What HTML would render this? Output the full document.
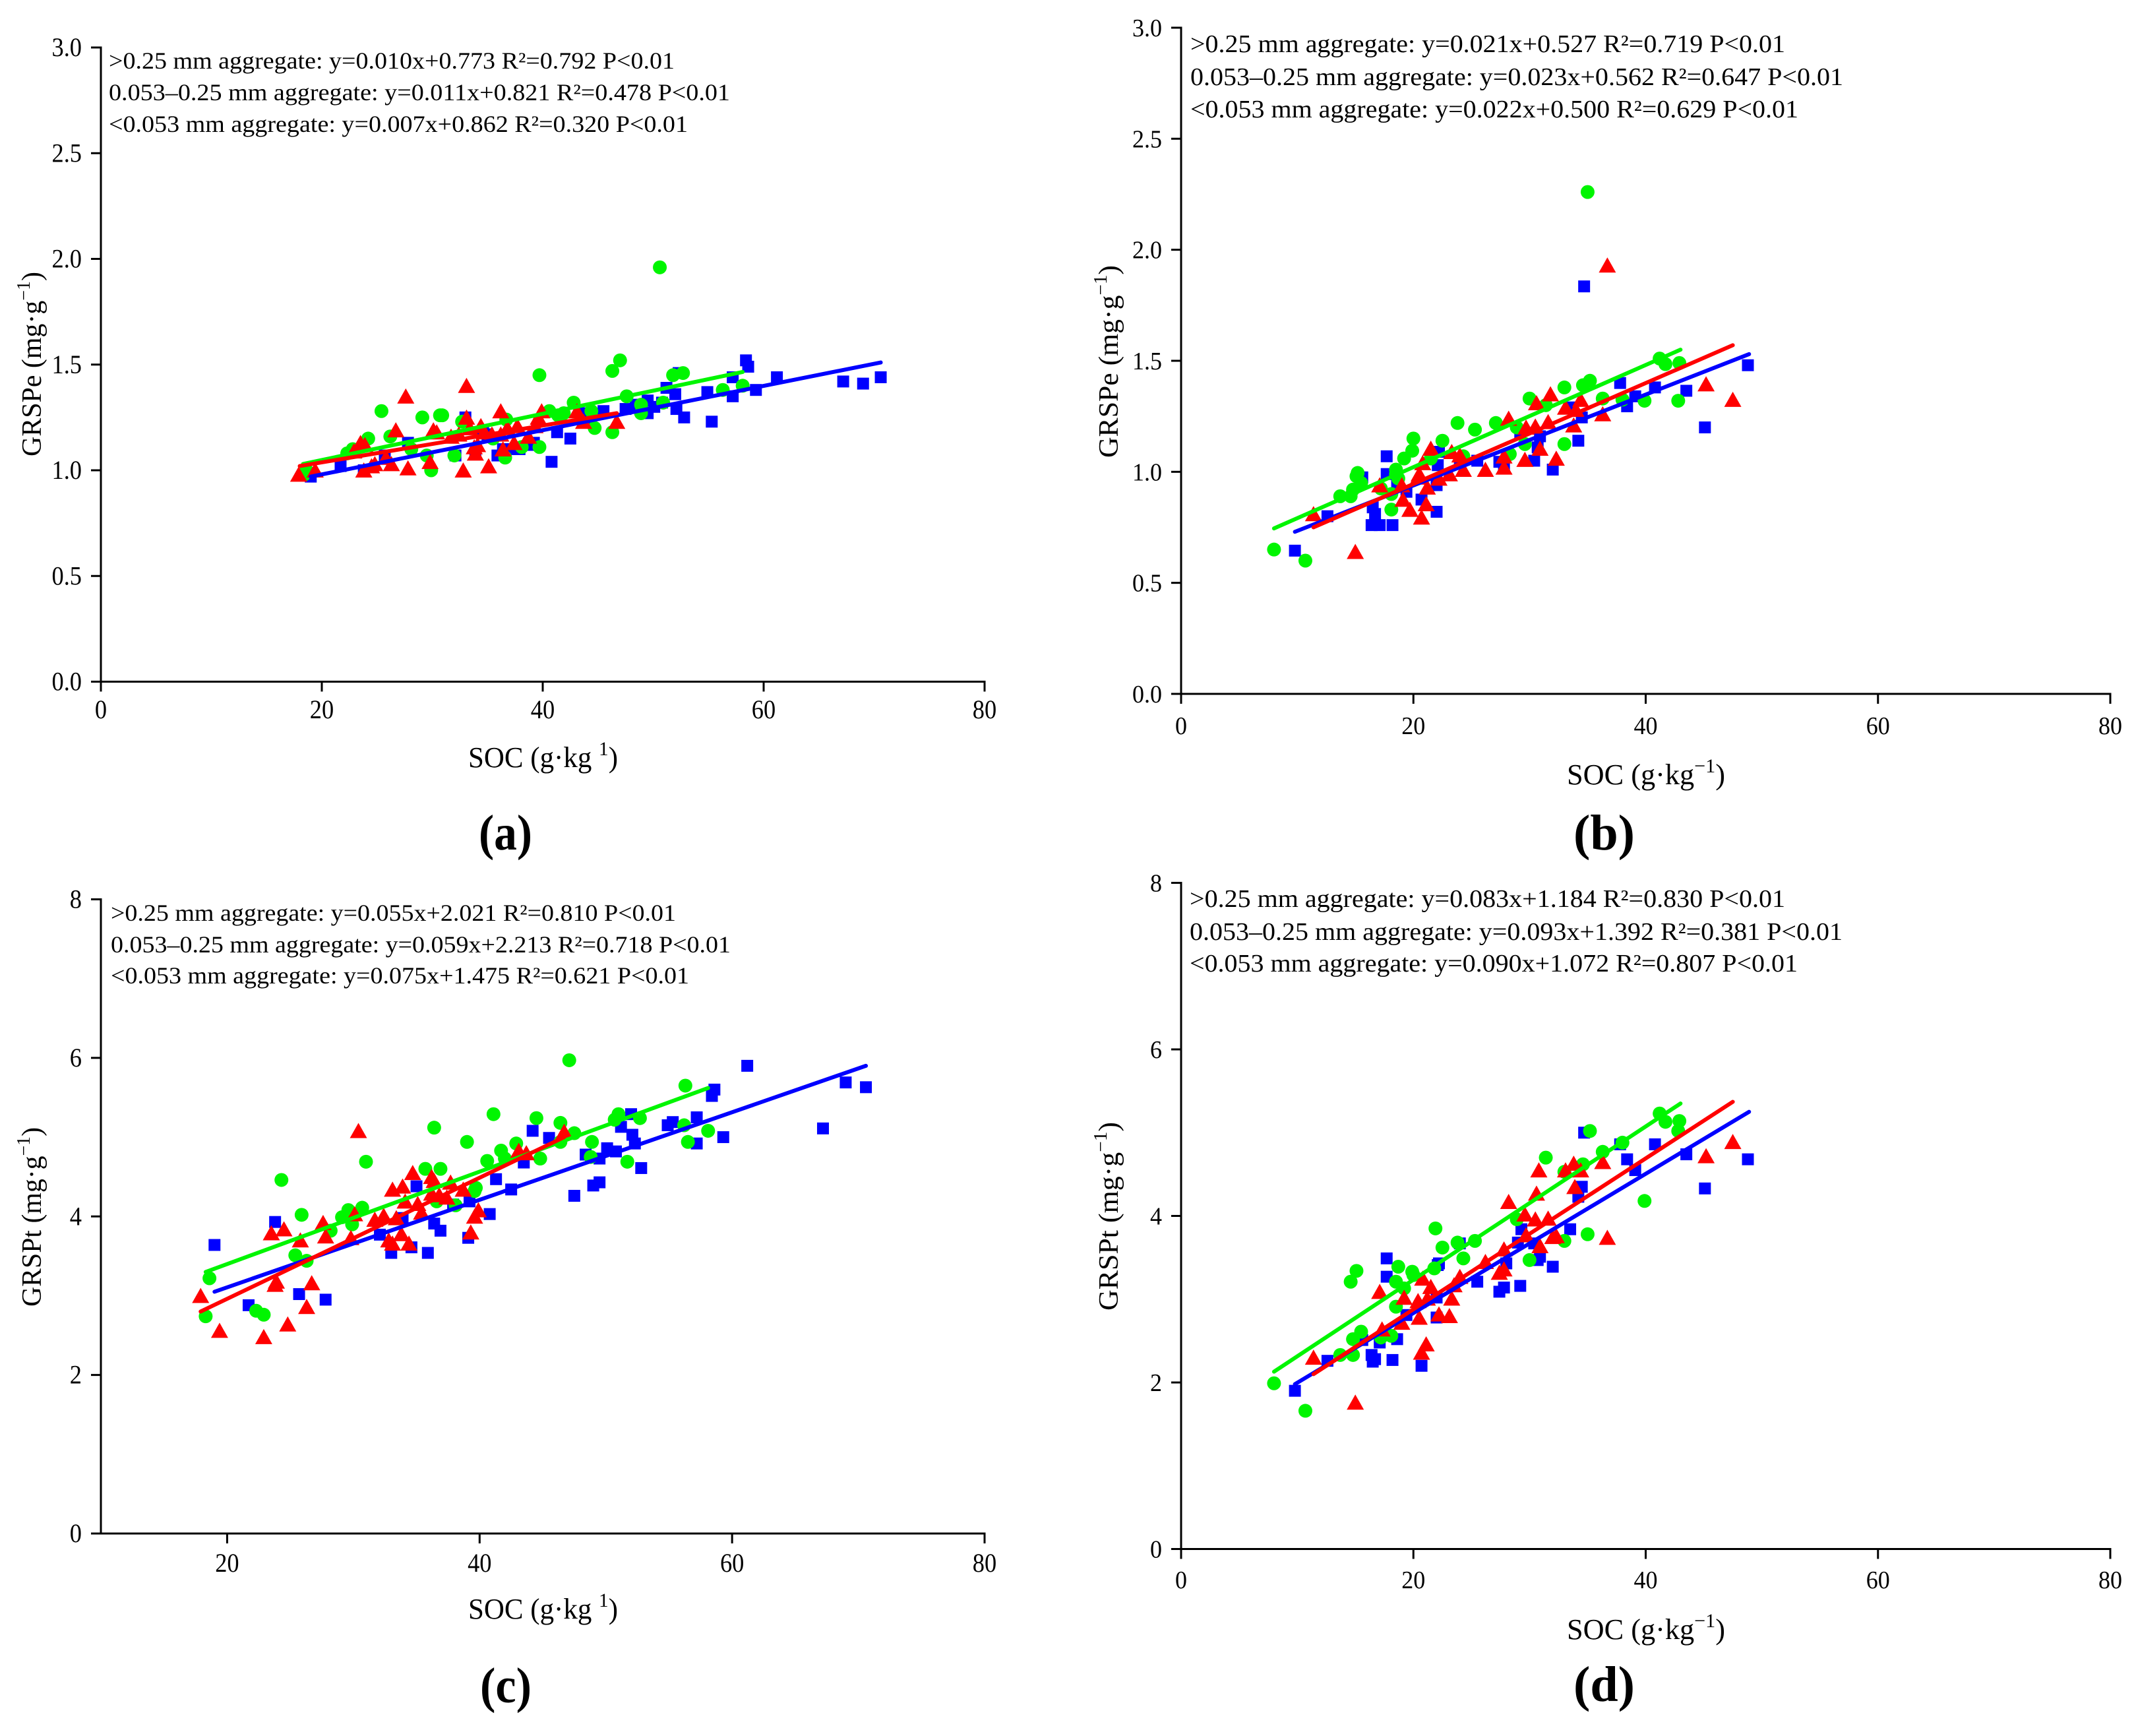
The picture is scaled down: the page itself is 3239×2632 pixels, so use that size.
<!DOCTYPE html>
<html lang="en">
<head>
<meta charset="utf-8">
<title>GRSP versus SOC scatter plots</title>
<style>
html,body{margin:0;padding:0;background:#fff;}
svg{display:block;}
text{font-family:"Liberation Serif","Times New Roman",serif;fill:#000;}
</style>
</head>
<body>
<svg id="figure" xmlns="http://www.w3.org/2000/svg" width="3239" height="2632" viewBox="0 0 3239 2632">
<rect width="3239" height="2632" fill="#fff"/>

<g id="panel-a"></g>
<g id="panel-b"></g>
<g id="panel-c"></g>
<g id="panel-d"></g>

<g font-size="36">
<text x="165" y="104" textLength="858" lengthAdjust="spacingAndGlyphs">&gt;0.25 mm aggregate: y=0.010x+0.773 R²=0.792 P&lt;0.01</text>
<text x="165" y="152" textLength="942" lengthAdjust="spacingAndGlyphs">0.053–0.25 mm aggregate: y=0.011x+0.821 R²=0.478 P&lt;0.01</text>
<text x="165" y="200" textLength="878" lengthAdjust="spacingAndGlyphs">&lt;0.053 mm aggregate: y=0.007x+0.862 R²=0.320 P&lt;0.01</text>
</g>
<g font-size="38">
<text x="1805" y="79" textLength="902" lengthAdjust="spacingAndGlyphs">&gt;0.25 mm aggregate: y=0.021x+0.527 R²=0.719 P&lt;0.01</text>
<text x="1805" y="129" textLength="990" lengthAdjust="spacingAndGlyphs">0.053–0.25 mm aggregate: y=0.023x+0.562 R²=0.647 P&lt;0.01</text>
<text x="1805" y="178" textLength="922" lengthAdjust="spacingAndGlyphs">&lt;0.053 mm aggregate: y=0.022x+0.500 R²=0.629 P&lt;0.01</text>
</g>
<g font-size="36">
<text x="168" y="1396" textLength="857" lengthAdjust="spacingAndGlyphs">&gt;0.25 mm aggregate: y=0.055x+2.021 R²=0.810 P&lt;0.01</text>
<text x="168" y="1444" textLength="940" lengthAdjust="spacingAndGlyphs">0.053–0.25 mm aggregate: y=0.059x+2.213 R²=0.718 P&lt;0.01</text>
<text x="168" y="1491" textLength="877" lengthAdjust="spacingAndGlyphs">&lt;0.053 mm aggregate: y=0.075x+1.475 R²=0.621 P&lt;0.01</text>
</g>
<g font-size="38">
<text x="1804" y="1375" textLength="903" lengthAdjust="spacingAndGlyphs">&gt;0.25 mm aggregate: y=0.083x+1.184 R²=0.830 P&lt;0.01</text>
<text x="1804" y="1425" textLength="990" lengthAdjust="spacingAndGlyphs">0.053–0.25 mm aggregate: y=0.093x+1.392 R²=0.381 P&lt;0.01</text>
<text x="1804" y="1473" textLength="922" lengthAdjust="spacingAndGlyphs">&lt;0.053 mm aggregate: y=0.090x+1.072 R²=0.807 P&lt;0.01</text>
</g>

<text x="710" y="1163" font-size="44" textLength="227" lengthAdjust="spacingAndGlyphs">SOC (g·kg <tspan font-size="30" dy="-18">1</tspan><tspan dy="18">)</tspan></text>
<text x="2376" y="1189" font-size="44" textLength="240" lengthAdjust="spacingAndGlyphs">SOC (g·kg<tspan font-size="30" dy="-18">−1</tspan><tspan dy="18">)</tspan></text>
<text x="710" y="2454" font-size="44" textLength="227" lengthAdjust="spacingAndGlyphs">SOC (g·kg <tspan font-size="30" dy="-18">1</tspan><tspan dy="18">)</tspan></text>
<text x="2376" y="2485" font-size="44" textLength="240" lengthAdjust="spacingAndGlyphs">SOC (g·kg<tspan font-size="30" dy="-18">−1</tspan><tspan dy="18">)</tspan></text>

<text transform="translate(62 692) rotate(-90)" font-size="42" textLength="280" lengthAdjust="spacingAndGlyphs">GRSPe (mg·g<tspan font-size="28" dy="-17">−1</tspan><tspan dy="17">)</tspan></text>
<text transform="translate(1695 694) rotate(-90)" font-size="42" textLength="292" lengthAdjust="spacingAndGlyphs">GRSPe (mg·g<tspan font-size="28" dy="-17">−1</tspan><tspan dy="17">)</tspan></text>
<text transform="translate(62 1981) rotate(-90)" font-size="42" textLength="272" lengthAdjust="spacingAndGlyphs">GRSPt (mg·g<tspan font-size="28" dy="-17">−1</tspan><tspan dy="17">)</tspan></text>
<text transform="translate(1695 1987) rotate(-90)" font-size="42" textLength="286" lengthAdjust="spacingAndGlyphs">GRSPt (mg·g<tspan font-size="28" dy="-17">−1</tspan><tspan dy="17">)</tspan></text>

<text x="726" y="1288" font-size="76" font-weight="700" textLength="81" lengthAdjust="spacingAndGlyphs">(a)</text>
<text x="2386" y="1288" font-size="76" font-weight="700" textLength="93" lengthAdjust="spacingAndGlyphs">(b)</text>
<text x="728" y="2581" font-size="76" font-weight="700" textLength="78" lengthAdjust="spacingAndGlyphs">(c)</text>
<text x="2386" y="2579" font-size="76" font-weight="700" textLength="93" lengthAdjust="spacingAndGlyphs">(d)</text>
</svg>

<script>
var xTickValuesFromZero = [0, 20, 40, 60, 80];
var xTickValuesFromTen = [20, 40, 60, 80];
var yTicksE = ['0.0', '0.5', '1.0', '1.5', '2.0', '2.5', '3.0'];
var yTicksT = ['0', '2', '4', '6', '8'];

var aBlueX = [19.0,21.7,23.8,25.7,27.8,32.1,33.0,33.9,34.6,35.0,35.9,36.4,36.9,37.9,39.1,39.2,40.8,41.3,42.5,43.5,44.2,45.5,47.5,48.4,49.0,49.5,49.5,50.1,50.8,51.2,52.0,52.1,52.3,52.8,54.9,55.3,57.2,57.2,58.4,58.6,59.3,61.2,67.2,69.0,70.6];
var aBlueY = [0.97,1.02,1.00,1.07,1.13,1.07,1.25,1.08,1.18,1.17,1.07,1.10,1.10,1.10,1.12,1.13,1.04,1.18,1.15,1.27,1.24,1.28,1.29,1.31,1.31,1.27,1.33,1.30,1.32,1.39,1.36,1.29,1.46,1.25,1.37,1.23,1.44,1.35,1.52,1.49,1.38,1.44,1.42,1.41,1.44];
var aGreenX = [18.4,18.6,22.3,22.8,24.2,25.4,26.2,28.1,29.1,29.5,29.9,30.7,30.9,32.0,32.7,35.5,36.6,36.7,38.1,39.7,39.7,40.6,41.4,41.9,42.8,44.4,44.7,46.3,46.3,47.0,47.6,48.9,48.9,50.6,50.9,51.8,52.7,56.3,58.1];
var aGreenY = [0.98,1.00,1.08,1.10,1.15,1.28,1.16,1.10,1.25,1.07,1.00,1.26,1.26,1.07,1.23,1.15,1.06,1.24,1.11,1.45,1.11,1.28,1.26,1.27,1.32,1.28,1.20,1.47,1.18,1.52,1.35,1.31,1.27,1.96,1.32,1.45,1.46,1.38,1.40];
var aRedX = [17.9,19.4,22.9,23.5,23.8,23.9,24.5,24.8,25.8,26.3,26.7,27.6,27.8,29.8,30.1,30.4,31.7,32.4,32.8,33.1,33.1,33.4,33.8,33.9,34.1,34.4,34.7,35.1,35.4,36.2,36.4,36.2,36.8,37.4,37.7,38.7,39.3,39.6,39.9,43.1,43.7,46.7];
var aRedY = [0.98,1.00,1.09,1.13,1.00,1.12,1.02,1.03,1.06,1.03,1.19,1.35,1.01,1.04,1.19,1.18,1.16,1.17,1.00,1.40,1.25,1.20,1.11,1.08,1.12,1.21,1.18,1.02,1.17,1.28,1.10,1.17,1.20,1.13,1.21,1.16,1.21,1.25,1.28,1.28,1.23,1.23];
var aLineBlueX = [19.0, 70.6];
var aLineBlueY = [0.97, 1.51];
var aLineGreenX = [18.3, 58.1];
var aLineGreenY = [1.03, 1.465];
var aLineRedX = [18.0, 46.7];
var aLineRedY = [1.02, 1.27];

var bBlueX = [9.8,12.6,15.6,16.4,16.5,16.7,17.1,17.7,17.7,18.2,18.6,19.4,20.7,22.0,22.0,22.1,22.2,24.0,25.5,27.4,27.8,29.2,30.4,30.7,30.9,32.0,33.5,34.2,34.5,34.7,37.8,38.4,39.1,40.8,43.5,45.1,48.8];
var bBlueY = [0.645,0.80,0.975,0.76,0.84,0.81,0.76,1.07,0.99,0.76,0.94,0.91,0.875,0.82,0.94,1.03,1.09,1.06,1.05,1.045,1.025,1.175,1.05,1.11,1.16,1.01,1.29,1.14,1.245,1.835,1.40,1.295,1.34,1.38,1.365,1.20,1.48];
var bGreenX = [8.0,10.7,13.7,14.6,14.8,15.1,15.2,15.5,17.2,18.1,18.1,18.5,18.5,18.7,19.2,19.9,20.0,21.5,22.5,23.8,24.3,25.3,27.1,28.3,28.9,29.6,30.0,31.4,33.0,33.0,34.6,35.0,35.2,36.3,38.0,39.9,41.2,41.7,42.8,42.9];
var bGreenY = [0.65,0.60,0.89,0.89,0.92,0.98,0.995,0.95,0.925,0.83,0.90,0.99,1.01,0.97,1.06,1.095,1.15,1.06,1.14,1.22,1.07,1.19,1.22,1.08,1.20,1.125,1.33,1.30,1.38,1.125,1.39,2.26,1.41,1.33,1.325,1.32,1.51,1.485,1.32,1.49];
var bRedX = [11.4,15.0,17.1,19.0,19.1,19.7,20.4,20.5,20.7,20.8,21.1,21.2,21.5,22.2,23.1,23.3,24.0,24.3,26.2,27.8,27.8,28.2,29.6,29.7,30.5,30.6,30.9,31.6,31.8,32.3,33.1,33.8,34.0,34.4,36.3,36.7,45.2,47.5];
var bRedY = [0.81,0.64,0.94,0.94,0.875,0.83,0.975,0.99,0.795,1.04,0.855,0.93,1.105,0.97,0.99,1.09,1.075,1.01,1.01,1.02,1.07,1.24,1.055,1.20,1.205,1.31,1.105,1.225,1.35,1.06,1.29,1.21,1.28,1.325,1.26,1.93,1.395,1.325];
var bLineBlueX = [9.8, 48.9];
var bLineBlueY = [0.73, 1.53];
var bLineGreenX = [8.0, 43.0];
var bLineGreenY = [0.745, 1.55];
var bLineRedX = [11.4, 47.5];
var bLineRedY = [0.75, 1.57];

var cBlueX = [19.0,21.7,23.8,25.7,27.8,32.1,33.0,33.9,34.6,35.0,35.9,36.4,36.9,37.9,39.1,39.2,40.8,41.3,42.5,43.5,44.2,45.5,47.5,48.4,49.0,49.5,49.5,50.1,50.8,51.2,52.0,52.1,52.3,52.8,54.9,55.3,57.2,57.2,58.4,58.6,59.3,61.2,67.2,69.0,70.6];
var cBlueY = [3.64,2.88,3.93,3.02,2.95,3.77,3.54,3.98,3.61,4.38,3.54,3.91,3.82,4.15,3.73,4.19,4.03,4.47,4.34,4.68,5.08,4.99,4.26,4.78,4.39,4.43,4.73,4.86,4.82,5.13,5.29,5.03,4.92,4.61,5.15,5.19,5.25,4.92,5.52,5.60,5.00,5.90,5.11,5.69,5.63];
var cGreenX = [18.3,18.6,22.3,22.9,24.3,25.4,25.9,26.3,28.2,29.1,29.6,29.9,30.7,31.0,36.4,35.7,36.6,36.9,38.1,39.0,39.7,39.6,40.6,41.1,41.7,42.0,42.9,44.5,44.8,46.4,46.4,47.1,47.5,48.8,48.9,50.7,51.0,51.7,52.7,56.2,56.3,56.5,58.1];
var cGreenY = [2.74,3.22,2.81,2.76,4.46,3.51,4.02,3.44,3.82,3.99,4.08,3.90,4.11,4.69,5.12,4.60,4.19,4.60,4.14,4.94,4.36,4.32,4.70,5.29,4.83,4.73,4.92,5.24,4.73,5.18,4.94,5.97,5.05,4.75,4.94,5.22,5.29,4.69,5.24,5.15,5.65,4.94,5.08];
var cRedX = [17.9,19.4,22.9,23.5,23.8,23.9,24.5,24.8,25.8,26.3,26.7,27.6,27.8,29.8,30.1,30.4,31.7,32.4,32.8,33.1,33.1,33.4,33.8,33.9,34.1,34.4,34.7,35.1,35.4,36.2,36.4,36.2,36.8,37.4,37.7,38.7,39.3,39.6,39.9,43.1,43.7,46.7];
var cRedY = [3.00,2.56,2.48,3.79,3.14,3.18,3.84,2.64,3.70,2.86,3.16,3.92,3.75,3.73,4.03,5.08,3.96,4.01,3.70,3.66,4.34,3.98,3.78,4.38,4.19,3.66,4.55,4.16,4.05,4.50,4.45,4.29,4.27,4.24,4.43,4.34,3.80,4.00,4.08,4.83,4.80,5.07];
var cLineBlueX = [19.0, 70.6];
var cLineBlueY = [3.05, 5.90];
var cLineGreenX = [18.3, 58.1];
var cLineGreenY = [3.30, 5.62];
var cLineRedX = [17.9, 46.7];
var cLineRedY = [2.80, 5.00];

var dBlueX = [9.8,12.6,15.6,16.4,16.5,16.7,17.1,17.7,17.7,18.2,18.6,19.4,20.7,22.0,22.0,22.1,22.2,24.0,25.5,27.4,27.8,28.0,29.2,29.3,29.0,30.4,30.7,30.9,32.0,33.5,34.2,34.5,34.7,37.8,38.4,39.1,40.8,43.5,45.1,48.8];
var dBlueY = [1.90,2.26,2.51,2.33,2.25,2.28,2.48,3.49,3.27,2.27,2.52,2.81,2.20,2.78,3.02,3.41,3.43,3.67,3.21,3.09,3.14,3.43,3.16,3.84,3.68,3.67,3.47,3.51,3.39,3.84,4.23,4.35,5.00,4.86,4.68,4.55,4.86,4.74,4.33,4.68];
var dGreenX = [8.0,10.7,13.7,14.6,14.8,14.8,15.1,15.5,17.2,18.1,18.5,18.5,18.7,19.2,19.9,20.0,21.8,21.9,22.5,23.8,24.3,25.3,28.9,30.0,31.4,33.0,33.0,34.6,35.0,35.2,36.3,38.0,39.9,41.2,41.7,42.8,42.9];
var dGreenY = [1.99,1.66,2.33,3.21,2.52,2.33,3.34,2.61,2.54,2.56,2.91,3.21,3.39,3.13,3.33,3.29,3.37,3.85,3.62,3.68,3.49,3.70,3.96,3.47,4.70,3.70,4.53,4.62,3.78,5.02,4.77,4.88,4.18,5.23,5.13,5.02,5.14];
var dRedX = [11.4,15.0,17.1,17.3,19.0,19.2,20.4,20.5,20.7,20.8,21.1,21.2,21.5,22.2,23.1,23.3,23.5,24.0,26.2,27.4,27.8,27.8,28.2,29.6,29.7,30.5,30.6,30.9,31.6,30.8,32.0,32.3,33.1,33.8,33.9,34.4,36.3,36.7,45.2,47.5];
var dRedY = [2.30,1.76,3.09,2.64,2.72,3.02,2.98,2.78,2.36,3.25,2.46,3.01,3.15,2.82,2.80,3.01,3.17,3.27,3.45,3.32,3.36,3.60,4.17,4.02,3.77,3.96,4.27,3.64,3.97,4.55,3.75,3.76,4.55,4.63,4.35,4.55,4.65,3.74,4.72,4.89];
var dLineBlueX = [9.8, 48.9];
var dLineBlueY = [1.98, 5.25];
var dLineGreenX = [8.0, 43.0];
var dLineGreenY = [2.13, 5.35];
var dLineRedX = [11.4, 47.5];
var dLineRedY = [2.10, 5.37];

var SVGNS = 'http://www.w3.org/2000/svg';
var BLUE = '#0000ff';
var GREEN = '#00f500';
var RED = '#ff0000';

function make(parent, tag, attrs) {
  var el = document.createElementNS(SVGNS, tag);
  for (var k in attrs) { el.setAttribute(k, attrs[k]); }
  parent.appendChild(el);
  return el;
}

function drawAxes(g, box, sx, sy, xValues, yLabels) {
  var bottom = sy(0);
  var top = sy(parseFloat(yLabels[yLabels.length - 1]));
  var yAxis = make(g, 'line', {x1: box.left, x2: box.left, y1: top - 1.5, y2: bottom + 1.5, stroke: '#000', 'stroke-width': 3});
  
  
  var xAxis = make(g, 'line', {x1: box.left, x2: box.right + 1.5, y1: bottom, y2: bottom, stroke: '#000', 'stroke-width': 3});
  
  
  xValues.forEach(function (v) {
    var px = sx(v);
    var tick = make(g, 'line', {x1: px, x2: px, y1: bottom, y2: bottom + 15, stroke: '#000', 'stroke-width': 3});
    
    
    var s = String(v);
    var label = make(g, 'text', {x: px, y: box.xLabelY, 'text-anchor': 'middle', 'font-size': box.tickFont, textLength: s.length * box.digitW, lengthAdjust: 'spacingAndGlyphs'});
    
    
    label.textContent = s;
  });
  yLabels.forEach(function (s) {
    var py = sy(parseFloat(s));
    var tick = make(g, 'line', {x1: box.left - 15, x2: box.left, y1: py, y2: py, stroke: '#000', 'stroke-width': 3});
    
    
    var w = s.length === 1 ? box.digitW : box.digitW * 2.5;
    var label = make(g, 'text', {x: box.left - 29, y: py + 13, 'text-anchor': 'end', 'font-size': box.tickFont, textLength: w, lengthAdjust: 'spacingAndGlyphs'});
    
    
    label.textContent = s;
  });
}

function drawSquares(g, xs, ys, sx, sy) {
  xs.forEach(function (v, i) {
    var el = make(g, 'rect', {x: sx(v) - 9, y: sy(ys[i]) - 9, width: 18, height: 18, fill: BLUE});
    
    
  });
}

function drawCircles(g, xs, ys, sx, sy) {
  xs.forEach(function (v, i) {
    var el = make(g, 'circle', {cx: sx(v), cy: sy(ys[i]), r: 10.5, fill: GREEN});
    
    
  });
}

function drawTriangles(g, xs, ys, sx, sy) {
  xs.forEach(function (v, i) {
    var px = sx(v);
    var py = sy(ys[i]);
    var el = make(g, 'polygon', {points: (px) + ',' + (py - 12) + ' ' + (px - 13) + ',' + (py + 11) + ' ' + (px + 13) + ',' + (py + 11), fill: RED});
    
    
  });
}

function drawTrend(g, xs, ys, sx, sy, color, name) {
  var el = make(g, 'line', {x1: sx(xs[0]), y1: sy(ys[0]), x2: sx(xs[1]), y2: sy(ys[1]), stroke: color, 'stroke-width': 6, 'stroke-linecap': 'round'});
  
  
}

function linear(d0, d1, r0, r1) {
  return function (v) { return r0 + (v - d0) * (r1 - r0) / (d1 - d0); };
}

function drawPanel(id, box, xValues, yLabels, s) {
  var g = document.getElementById(id);
  var sx = linear(box.xMin, 80, box.left, box.right);
  var sy = linear(0, parseFloat(yLabels[yLabels.length - 1]), box.bottom, box.top);
  drawSquares(g, s.blueX, s.blueY, sx, sy);
  drawCircles(g, s.greenX, s.greenY, sx, sy);
  drawTriangles(g, s.redX, s.redY, sx, sy);
  drawTrend(g, s.lineGreenX, s.lineGreenY, sx, sy, GREEN, 'trend-line-medium-aggregate');
  drawTrend(g, s.lineBlueX, s.lineBlueY, sx, sy, BLUE, 'trend-line-large-aggregate');
  drawTrend(g, s.lineRedX, s.lineRedY, sx, sy, RED, 'trend-line-small-aggregate');
  drawAxes(g, box, sx, sy, xValues, yLabels);
}

drawPanel('panel-a', {left: 153, right: 1493, top: 72, bottom: 1033.5, xMin: 0, xLabelY: 1089, tickFont: 40, digitW: 18.2}, xTickValuesFromZero, yTicksE,
  {blueX: aBlueX, blueY: aBlueY, greenX: aGreenX, greenY: aGreenY, redX: aRedX, redY: aRedY,
   lineBlueX: aLineBlueX, lineBlueY: aLineBlueY, lineGreenX: aLineGreenX, lineGreenY: aLineGreenY, lineRedX: aLineRedX, lineRedY: aLineRedY});
drawPanel('panel-b', {left: 1791, right: 3200, top: 42, bottom: 1052, xMin: 0, xLabelY: 1113, tickFont: 38, digitW: 18}, xTickValuesFromZero, yTicksE,
  {blueX: bBlueX, blueY: bBlueY, greenX: bGreenX, greenY: bGreenY, redX: bRedX, redY: bRedY,
   lineBlueX: bLineBlueX, lineBlueY: bLineBlueY, lineGreenX: bLineGreenX, lineGreenY: bLineGreenY, lineRedX: bLineRedX, lineRedY: bLineRedY});
drawPanel('panel-c', {left: 153, right: 1493, top: 1363.5, bottom: 2325, xMin: 10, xLabelY: 2383, tickFont: 40, digitW: 18.2}, xTickValuesFromTen, yTicksT,
  {blueX: cBlueX, blueY: cBlueY, greenX: cGreenX, greenY: cGreenY, redX: cRedX, redY: cRedY,
   lineBlueX: cLineBlueX, lineBlueY: cLineBlueY, lineGreenX: cLineGreenX, lineGreenY: cLineGreenY, lineRedX: cLineRedX, lineRedY: cLineRedY});
drawPanel('panel-d', {left: 1791, right: 3200, top: 1338.5, bottom: 2348.5, xMin: 0, xLabelY: 2408, tickFont: 38, digitW: 18}, xTickValuesFromZero, yTicksT,
  {blueX: dBlueX, blueY: dBlueY, greenX: dGreenX, greenY: dGreenY, redX: dRedX, redY: dRedY,
   lineBlueX: dLineBlueX, lineBlueY: dLineBlueY, lineGreenX: dLineGreenX, lineGreenY: dLineGreenY, lineRedX: dLineRedX, lineRedY: dLineRedY});
</script>
</body>
</html>
